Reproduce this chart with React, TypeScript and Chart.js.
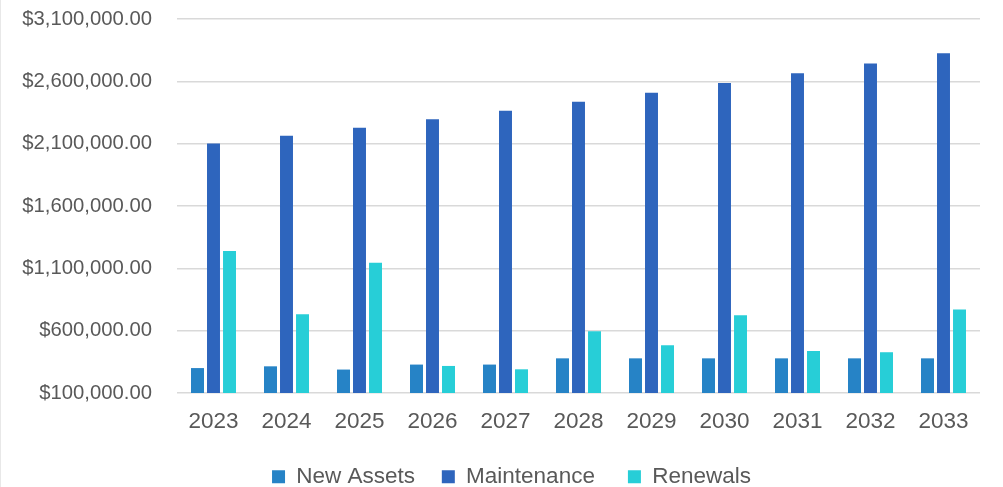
import React, { useEffect, useRef } from "react";
import { Chart, registerables } from "chart.js";

Chart.register(...registerables);

const years = ["2023", "2024", "2025", "2026", "2027", "2028", "2029", "2030", "2031", "2032", "2033"];
const newAssets = [300000, 314000, 288000, 328000, 328000, 378000, 378000, 378000, 378000, 378000, 378000];
const maintenance = [2102000, 2163000, 2227000, 2295000, 2364000, 2436000, 2508000, 2586000, 2664000, 2744000, 2825000];
const renewals = [1240000, 732000, 1144000, 317000, 290000, 595000, 483000, 724000, 437000, 427000, 769000];

const seriesNames = ["New Assets", "Maintenance", "Renewals"];
const seriesColors = ["#2683C6", "#2E65BD", "#27CED7"];
const yMin = 100000;
const yMax = 3100000;
const yStep = 500000;

const FONT = "'Liberation Sans', Arial, sans-serif";
const TEXT = "#595959";
const legendGaps = ["   ", "    ", ""];

const legendShift = {
  id: "legendShift",
  afterLayout(chart: any) {
    const lg = chart.legend;
    if (lg) {
      lg.left += 21;
      lg.right += 21;
    }
  },
};

export default function App() {
  const ref = useRef<HTMLCanvasElement | null>(null);

  useEffect(() => {
    document.documentElement.style.overflow = "hidden";
    document.body.style.margin = "0";
    document.body.style.overflow = "hidden";
    const canvas = ref.current;
    if (!canvas) return;
    const data = [newAssets, maintenance, renewals];
    const chart = new Chart(canvas, {
      type: "bar",
      data: {
        labels: years,
        datasets: seriesNames.map((name, i) => ({
          label: name,
          data: data[i],
          backgroundColor: seriesColors[i],
          borderWidth: 0,
          categoryPercentage: 0.658,
          barPercentage: 0.81,
        })),
      },
      plugins: [legendShift],
      options: {
        responsive: false,
        animation: false,
        layout: { padding: { top: 19, right: 23, left: 0, bottom: 0 } },
        plugins: {
          tooltip: { enabled: false },
          legend: {
            position: "bottom",
            labels: {
              boxWidth: 13,
              boxHeight: 13,
              padding: 8,
              color: TEXT,
              font: { family: FONT, size: 22.5 },
              generateLabels: (c: any) => {
                const items = Chart.defaults.plugins.legend.labels.generateLabels(c);
                return items.map((it: any, i: number) => ({
                  ...it,
                  text: it.text + (legendGaps[i] || ""),
                  lineWidth: 0,
                }));
              },
            },
          },
        },
        scales: {
          x: {
            grid: { display: false, drawTicks: false },
            border: { display: false },
            ticks: { color: TEXT, font: { family: FONT, size: 22.5 }, padding: 15.5, maxRotation: 0 },
            afterFit: (s: any) => {
              s.height = 64.5;
            },
          },
          y: {
            min: yMin,
            max: yMax,
            grid: { color: "#d9d9d9", lineWidth: 1.5, drawTicks: false },
            border: { display: false },
            ticks: {
              stepSize: yStep,
              color: TEXT,
              padding: 25,
              font: { family: FONT, size: 20.3 },
              callback: (v: any) =>
                "$" + Number(v).toLocaleString("en-US", { minimumFractionDigits: 2, maximumFractionDigits: 2 }),
            },
            afterFit: (s: any) => {
              s.width = 176;
              s.paddingTop = 0;
              s.paddingBottom = 0;
            },
          },
        },
      },
    });
    return () => chart.destroy();
  }, []);

  return (
    <div style={{ width: 1003, height: 487, overflow: "hidden", background: "#fff" }}>
      <div style={{ width: 1003, height: 498, display: "flex" }}>
        <div style={{ width: 1, height: 498, background: "#e8e8e8" }} />
        <canvas ref={ref} width={1002} height={498} style={{ display: "block" }} />
      </div>
    </div>
  );
}
